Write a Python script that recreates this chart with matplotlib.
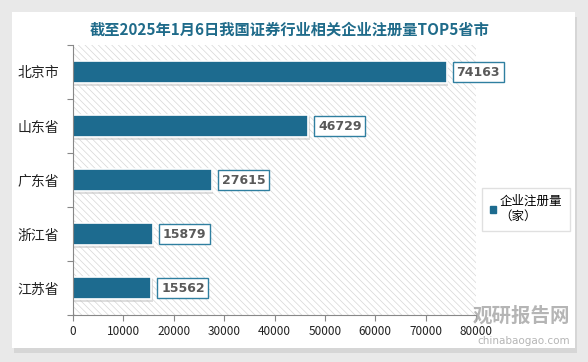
import matplotlib.pyplot as plt
from matplotlib.patches import Rectangle, Patch

plt.rcParams['font.family'] = ['Noto Sans CJK SC', 'DejaVu Sans']
plt.rcParams['hatch.linewidth'] = 0.5

# 数据
provinces = ['北京市', '山东省', '广东省', '浙江省', '江苏省']
counts = [74163, 46729, 27615, 15879, 15562]
x_ticks = [0, 10000, 20000, 30000, 40000, 50000, 60000, 70000, 80000]
title = '截至2025年1月6日我国证券行业相关企业注册量TOP5省市'
series_name = '企业注册量\n（家）'

bar_color = '#1d6b8f'
W, H = 588, 362

fig = plt.figure(figsize=(W / 100, H / 100), dpi=100)
fig.patch.set_facecolor('#e9e9e9')

# 白色卡片 + 阴影
fig.patches.append(Rectangle((14 / W, 9 / H), 563 / W, 336 / H, transform=fig.transFigure,
                             facecolor='#d6d6d6', edgecolor='none', zorder=-2))
fig.patches.append(Rectangle((12 / W, 14 / H), 563 / W, 336 / H, transform=fig.transFigure,
                             facecolor='white', edgecolor='none', zorder=-1))

ax = fig.add_axes([73 / W, 47 / H, 403 / W, 270 / H])
ax.set_facecolor('white')
ax.add_patch(Rectangle((0, 0), 1, 1, transform=ax.transAxes, facecolor='none',
                       edgecolor='#d6d6d6', hatch='\\\\\\\\\\', linewidth=0, zorder=0))

ypos = list(range(len(provinces)))
# 阴影
ax.barh([y + 0.05 for y in ypos], counts, height=0.42, left=250, color='#c8c8c8', alpha=0.6, zorder=1)
ax.barh(ypos, counts, height=0.42, color=bar_color, edgecolor='white', linewidth=1.2, zorder=2)

for y, v in zip(ypos, counts):
    ax.annotate(f'{v}', (v, y), xytext=(7, 0), textcoords='offset points', va='center', ha='left',
                fontsize=9, fontweight='bold', color='#595959', family='DejaVu Sans', zorder=3,
                bbox=dict(boxstyle='square,pad=0.3', facecolor='white', edgecolor='#2f7fa0', linewidth=1))

ax.set_xlim(0, 80000)
ax.set_ylim(len(provinces) - 0.5, -0.5)
ax.set_xticks(x_ticks)
ax.set_xticklabels([str(t) for t in x_ticks], fontsize=8.5, color='#222222')
ax.set_yticks([i - 0.5 for i in range(len(provinces) + 1)])
ax.set_yticklabels([])
ax.set_yticks(ypos, minor=True)
ax.set_yticklabels(provinces, minor=True, fontsize=10, color='#222222')
ax.tick_params(axis='y', which='minor', length=0, pad=10)
ax.tick_params(axis='y', which='major', length=4, color='#888888')
ax.tick_params(axis='x', length=4, color='#888888', pad=3)
for s in ['top', 'right']:
    ax.spines[s].set_visible(False)
for s in ['left', 'bottom']:
    ax.spines[s].set_color('#888888')

fig.text(290 / W, 1 - 30 / H, title, ha='center', va='center', fontsize=11,
         fontweight='bold', color='#1f6b8a')

leg = fig.legend(handles=[Patch(color=bar_color, label=series_name)], loc='center',
                 bbox_to_anchor=(526 / W, 1 - 209 / H), fontsize=9, frameon=True,
                 fancybox=False, handlelength=0.5, handleheight=0.5, handletextpad=0.3,
                 borderpad=0.6)
leg.get_frame().set_edgecolor('#d9d9d9')
leg.get_frame().set_linewidth(1)

# 水印
fig.text(570 / W, 1 - 316 / H, '观研报告网', ha='right', va='center', fontsize=14,
         fontweight='bold', color='#a8a8a8', alpha=0.85)
fig.text(570 / W, 1 - 341 / H, 'chinabaogao.com', ha='right', va='center', fontsize=7.5,
         color='#a8a8a8', alpha=0.85, family='DejaVu Sans')

fig.savefig('out.png', dpi=100, facecolor=fig.get_facecolor())
